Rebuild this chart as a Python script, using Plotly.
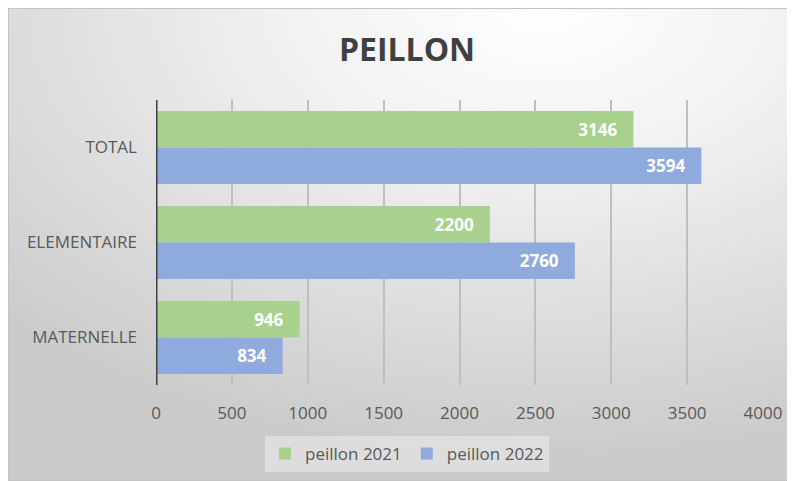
import base64
import plotly.graph_objects as go

categories = ["TOTAL", "ELEMENTAIRE", "MATERNELLE"]
peillon_2021 = [3146, 2200, 946]
peillon_2022 = [3594, 2760, 834]
series_names = ["peillon 2021", "peillon 2022"]
x_ticks = [0, 500, 1000, 1500, 2000, 2500, 3000, 3500, 4000]

# page body has an 8px margin, so the figure is sized to fill the rest
W, H = 787, 473
L, R, T, B = 148, 32, 92, 96
pw, ph = W - L - R, H - T - B

svg = f'''<svg xmlns="http://www.w3.org/2000/svg" width="{W}" height="{H}" viewBox="0 0 {W} {H}" preserveAspectRatio="none">
<defs><radialGradient id="g" cx="0.68" cy="0.0" r="0.95" gradientUnits="objectBoundingBox">
<stop offset="0" stop-color="#ffffff"/><stop offset="0.35" stop-color="#f1f1f1"/><stop offset="1" stop-color="#cbcbcb"/></radialGradient></defs>
<rect x="0.5" y="0.5" width="{W-1}" height="{H-1}" fill="url(#g)" stroke="#c4c4c4" stroke-width="1"/>
</svg>'''
src = "data:image/svg+xml;base64," + base64.b64encode(svg.encode()).decode()

nb = "\u00a0"
fig = go.Figure()
fig.add_trace(go.Bar(
    y=categories, x=peillon_2021, orientation="h", name=series_names[0],
    marker=dict(color="#a9d18e", line=dict(width=0)),
    text=[f"{v}{nb*3}" for v in peillon_2021], textposition="inside",
    insidetextanchor="end",
    textfont=dict(family="Open Sans", size=17, color="white", weight="bold"),
))
fig.add_trace(go.Bar(
    y=categories, x=peillon_2022, orientation="h", name=series_names[1],
    marker=dict(color="#8faadc", line=dict(width=0)),
    text=[f"{v}{nb*3}" for v in peillon_2022], textposition="inside",
    insidetextanchor="end",
    textfont=dict(family="Open Sans", size=17, color="white", weight="bold"),
))

fig.update_layout(
    width=W, height=H,
    margin=dict(l=L, r=R, t=T, b=B, autoexpand=False),
    paper_bgcolor="white", plot_bgcolor="rgba(0,0,0,0)",
    barmode="group", bargap=0.23, bargroupgap=0,
    font=dict(family="Open Sans", color="#595959"),
    title=dict(text="<b>PEILLON</b>", x=(399) / W, xanchor="center",
               y=1 - 42 / H, yanchor="middle",
               font=dict(family="Open Sans", size=32, color="#404040")),
    xaxis=dict(range=[0, 4000], tickvals=x_ticks, showgrid=True,
               gridcolor="#bfbfbf", gridwidth=1.5, zeroline=False,
               showline=False, ticks="", ticklabelstandoff=16,
               tickfont=dict(size=17, color="#595959")),
    yaxis=dict(categoryorder="array", categoryarray=categories,
               autorange="reversed", showgrid=False, zeroline=False,
               showline=False, ticks="", ticklabelstandoff=18,
               tickfont=dict(size=17, color="#595959")),
    legend=dict(orientation="h", x=(399 - L) / pw, xanchor="center",
                y=(T + ph - 428) / ph, yanchor="top",
                bgcolor="rgba(255,255,255,0.35)", borderwidth=0,
                font=dict(size=17, color="#595959"),
                itemwidth=30, traceorder="normal"),
    images=[dict(source=src, xref="paper", yref="paper",
                 x=-L / pw, y=(T + ph) / ph,
                 sizex=W / pw, sizey=H / ph,
                 sizing="stretch", xanchor="left", yanchor="top",
                 layer="below")],
    shapes=[dict(type="line", xref="x", yref="paper", x0=0, x1=0, y0=0, y1=1,
                 line=dict(color="#404040", width=3))],
)

fig.write_html("out.html")
